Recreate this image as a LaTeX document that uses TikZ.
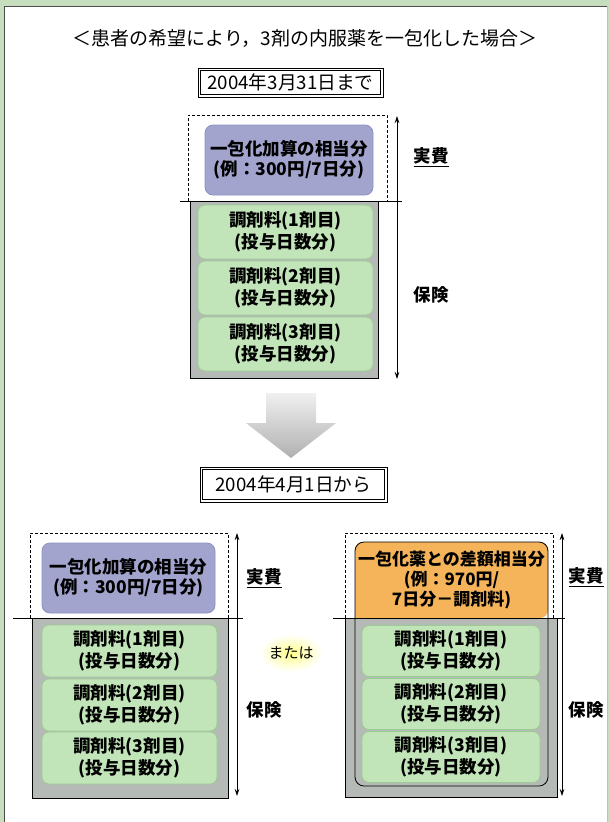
\documentclass[tikz,border=0pt]{standalone}
\usepackage{fontspec}
\setmainfont{Noto Sans CJK JP}
\usetikzlibrary{arrows.meta}
\definecolor{framegreen}{HTML}{C6DEBE}
\definecolor{purplebox}{HTML}{A2A4CE}
\definecolor{purpleedge}{HTML}{8F91C0}
\definecolor{greenbox}{HTML}{C2E4B9}
\definecolor{greenedge}{HTML}{9CCB93}
\definecolor{graybox}{HTML}{B6BAB6}
\definecolor{orangebox}{HTML}{F5B45A}
\begin{document}
\begin{tikzpicture}[x=1pt,y=-1pt,
  gbox/.style={draw=greenedge,fill=greenbox,line width=0.8pt,rounded corners=7pt,
    align=center,inner sep=0pt,font=\fontsize{17.5}{22.5}\selectfont\bfseries},
  pbox/.style={draw=purpleedge,fill=purplebox,line width=0.8pt,rounded corners=8pt,
    align=center,inner sep=0pt,font=\fontsize{17.5}{20}\selectfont\bfseries},
  datebox/.style={draw,line width=0.7pt,inner sep=0pt,
    font=\fontsize{18.7}{22}\selectfont},
  lab/.style={font=\fontsize{17.5}{20}\selectfont\bfseries},
  varrow/.style={{Stealth[length=7pt,width=4.5pt]}-{Stealth[length=7pt,width=4.5pt]},line width=0.7pt},
  dashbox/.style={line width=0.6pt,dash pattern=on 3pt off 2pt},
  grayback/.style={fill=graybox,draw=black,line width=0.7pt}]
\useasboundingbox (0,0) rectangle (609,822);
% frame
\fill[framegreen] (0,0) rectangle (609,822);
\fill[white] (4,6) rectangle (607,822);
\draw[black!70,line width=0.8pt] (4,822) -- (4,6) -- (607,6);
\draw[black!25,line width=0.5pt] (607,6) -- (607,822);
% title
\node[font=\fontsize{19}{22}\selectfont] (title) at (305,38) {＜患者の希望により，3剤の内服薬を一包化した場合＞};
\node[datebox,minimum width=185,minimum height=29] (date1) at (290.5,82.5) {2004年3月31日まで};
\draw[line width=0.6pt] ([shift={(3,-3)}]date1.south west) rectangle ([shift={(-3,3)}]date1.north east);

% ---------- top panel ----------
\draw[dashbox] (188,201) -- (188,115) -- (387,115) -- (387,201);
\filldraw[grayback] (190,201) rectangle (378,378);
\draw[line width=0.7pt] (180,201) -- (402,201);
\node[pbox,minimum width=168,minimum height=70] (p1) at (289,160) {一包化加算の相当分\\(例：300円/7日分)};
\node[gbox,minimum width=175,minimum height=54] (t1g1) at (285.5,232) {調剤料(1剤目)\\(投与日数分)};
\node[gbox,minimum width=175,minimum height=54] (t1g2) at (285.5,288) {調剤料(2剤目)\\(投与日数分)};
\node[gbox,minimum width=175,minimum height=54] (t1g3) at (285.5,344) {調剤料(3剤目)\\(投与日数分)};
\coordinate (a1t) at (397,116);
\coordinate (a1b) at (397,379);
\draw[varrow] (a1t) -- (a1b);
\node[lab] (l1a) at (431,157) {\underline{実費}};
\node[lab] (l1b) at (431,295) {保険};

% ---------- big arrow ----------
\shade[top color=gray!12,bottom color=gray!62] (266,393) -- (316,393) -- (316,423) -- (336,423) -- (291,458) -- (246,423) -- (266,423) -- cycle;

\node[datebox,minimum width=187,minimum height=35] (date2) at (293.5,484.5) {2004年4月1日から};
\draw[line width=0.6pt] ([shift={(3,-3)}]date2.south west) rectangle ([shift={(-3,3)}]date2.north east);

% ---------- bottom left panel ----------
\draw[dashbox] (30,618) -- (30,533) -- (228,533) -- (228,618);
\filldraw[grayback] (32,618) rectangle (228,798);
\draw[line width=0.7pt] (13,618) -- (243,618);
\node[pbox,minimum width=173,minimum height=70] (p2) at (128.5,578) {一包化加算の相当分\\(例：300円/7日分)};
\node[gbox,minimum width=175,minimum height=52] (t2g1) at (129.5,651) {調剤料(1剤目)\\(投与日数分)};
\node[gbox,minimum width=175,minimum height=52] (t2g2) at (129.5,705) {調剤料(2剤目)\\(投与日数分)};
\node[gbox,minimum width=175,minimum height=52] (t2g3) at (129.5,758) {調剤料(3剤目)\\(投与日数分)};
\coordinate (a2t) at (237,533);
\coordinate (a2b) at (237,796);
\draw[varrow] (a2t) -- (a2b);
\node[lab] (l2a) at (264,578) {\underline{実費}};
\node[lab] (l2b) at (264,710) {保険};

% または
\shade[inner color=yellow!45,outer color=white] (291,653) ellipse (32 and 19);
\node[font=\fontsize{15}{18}\selectfont] (or) at (291,653) {または};

% ---------- bottom right panel ----------
\draw[dashbox] (345,618) -- (345,533) -- (553,533) -- (553,618);
\filldraw[grayback] (345,618) rectangle (557,797);
\fill[orangebox,rounded corners=8pt] (355,618) -- (355,542) -- (548,542) -- (548,618) [sharp corners] -- cycle;
\draw[line width=0.7pt] (333,618) -- (565,618);
\draw[line width=0.8pt,rounded corners=9pt] (355,542) rectangle (548,786);
\node[align=center,inner sep=0pt,font=\fontsize{17}{20}\selectfont\bfseries] (o3) at (451.5,580) {一包化薬との差額相当分\\(例：970円/\\7日分－調剤料)};
\node[gbox,minimum width=178,minimum height=51] (t3g1) at (451,651) {調剤料(1剤目)\\(投与日数分)};
\node[gbox,minimum width=178,minimum height=51] (t3g2) at (451,704) {調剤料(2剤目)\\(投与日数分)};
\node[gbox,minimum width=178,minimum height=51] (t3g3) at (451,757) {調剤料(3剤目)\\(投与日数分)};
\coordinate (a3t) at (562,533);
\coordinate (a3b) at (562,796);
\draw[varrow] (a3t) -- (a3b);
\node[lab] (l3a) at (586,577) {\underline{実費}};
\node[lab] (l3b) at (586,710) {保険};
\end{tikzpicture}
\end{document}
